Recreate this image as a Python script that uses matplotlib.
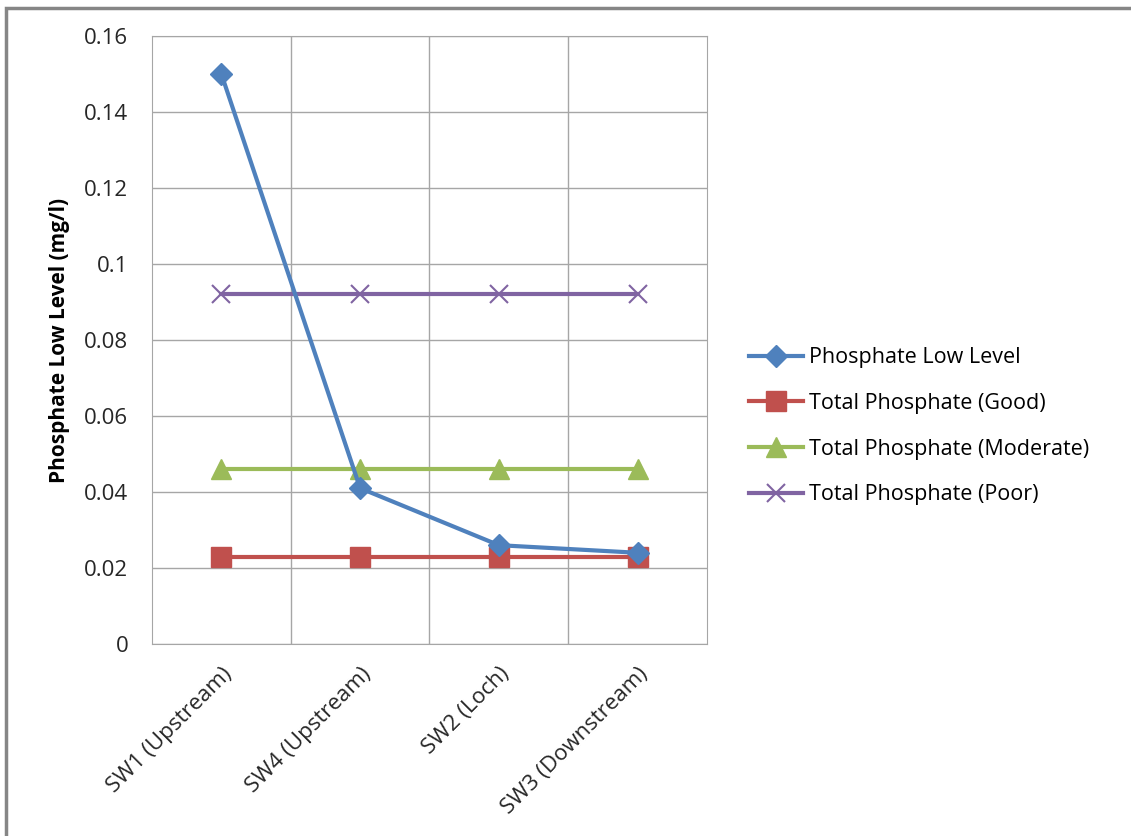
import numpy as np
import matplotlib.pyplot as plt
from matplotlib.patches import Rectangle

plt.rcParams['font.family'] = ['Open Sans', 'DejaVu Sans']

sites = ['SW1 (Upstream)', 'SW4 (Upstream)', 'SW2 (Loch)', 'SW3 (Downstream)']
low_level = [0.15, 0.041, 0.026, 0.024]
tp_good = [0.023, 0.023, 0.023, 0.023]
tp_moderate = [0.046, 0.046, 0.046, 0.046]
tp_poor = [0.092, 0.092, 0.092, 0.092]

fig = plt.figure(figsize=(11.31, 8.36), dpi=100)
# outer chart frame
fig.patches.append(Rectangle((6 / 1131, -0.1), 1.2, 1.1 - 8 / 836, transform=fig.transFigure,
                             fill=False, edgecolor='#868686', linewidth=2.5))

ax = fig.add_axes([0.1344, 0.2297, 0.4907, 0.7272])
x = np.arange(len(sites))

ax.plot(x, low_level, color='#4F81BD', lw=3, marker='D', ms=11, label='Phosphate Low Level', zorder=5)
ax.plot(x, tp_good, color='#C0504D', lw=3, marker='s', ms=14, label='Total Phosphate (Good)', zorder=4)
ax.plot(x, tp_moderate, color='#9BBB59', lw=3, marker='^', ms=14, label='Total Phosphate (Moderate)', zorder=4)
ax.plot(x, tp_poor, color='#8064A2', lw=3, marker='x', ms=13, mew=1.5, label='Total Phosphate (Poor)', zorder=4)

ax.set_xlim(-0.5, 3.5)
ax.set_ylim(0, 0.16)
ax.set_yticks(np.arange(0, 0.161, 0.02))
ax.set_yticklabels(['0', '0.02', '0.04', '0.06', '0.08', '0.1', '0.12', '0.14', '0.16'], fontsize=16, color='#262626')
ax.set_xticks(x)
ax.set_xticklabels(sites, rotation=45, ha='right', rotation_mode='anchor', fontsize=16, color='#262626')
ax.set_xticks([0.5, 1.5, 2.5], minor=True)
ax.tick_params(axis='y', length=0, pad=17)
ax.tick_params(axis='x', length=0, pad=14)
ax.tick_params(which='minor', length=0)
ax.grid(True, which='minor', axis='x', color='#A6A6A6', lw=1)
ax.grid(True, which='major', axis='y', color='#A6A6A6', lw=1)
for s in ax.spines.values():
    s.set_color('#A6A6A6')
ax.set_axisbelow(True)

ax.set_ylabel('Phosphate Low Level (mg/l)', fontsize=15, fontweight='bold', labelpad=10)

fig.legend(loc='upper left', bbox_to_anchor=(0.645, 0.608), frameon=False, fontsize=15.5,
           handlelength=2.5, labelspacing=1.15, handletextpad=0.3)

fig.savefig('out.png', dpi=100)
